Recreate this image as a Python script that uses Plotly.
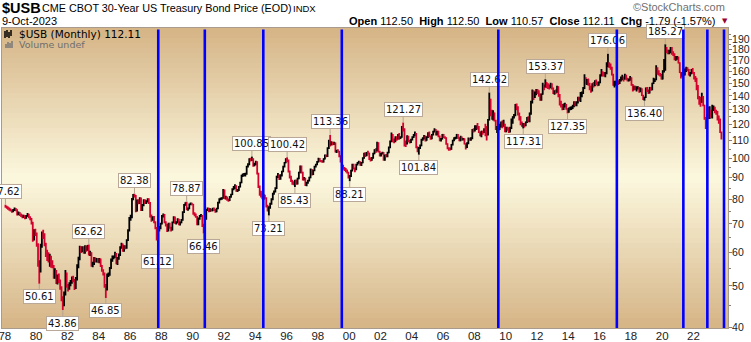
import math
import pandas as pd
import plotly.graph_objects as go

# ---------------- data (monthly bars, Jan 1978 .. Oct 2023) ----------------
first_open = 77.3
close = [
    76.9, 76.5, 76.2, 75.8, 75.3, 74.9, 75.4, 76.0, 75.5, 73.8, 74.2, 73.6,  # 1978
    73.2, 72.8, 73.1, 72.4, 73.0, 73.6, 72.6, 72.0, 70.5, 65.0, 67.2, 66.4,  # 1979
    62.5, 56.0, 54.5, 62.0, 66.5, 66.0, 62.5, 59.5, 59.0, 57.5, 57.8, 57.0,  # 1980
    55.5, 52.5, 54.0, 51.0, 52.5, 51.5, 49.5, 46.5, 45.5, 48.0, 53.5, 50.0,  # 1981
    49.5, 50.5, 51.0, 52.0, 51.5, 49.5, 52.0, 55.5, 58.0, 61.5, 60.5, 61.5,  # 1982
    60.0, 62.0, 60.8, 62.2, 59.5, 59.8, 56.0, 56.3, 58.0, 57.2, 57.8, 57.0,  # 1983
    57.8, 55.8, 54.3, 53.5, 50.0, 49.0, 53.0, 53.2, 55.0, 57.5, 58.2, 58.5,  # 1984
    59.5, 56.5, 58.0, 59.2, 61.5, 62.5, 60.5, 61.8, 61.5, 64.0, 67.5, 72.0,  # 1985
    72.5, 80.0, 82.0, 81.5, 75.0, 79.5, 78.5, 80.5, 75.5, 77.5, 79.5, 78.5,  # 1986
    79.0, 80.0, 78.5, 73.0, 71.5, 72.5, 70.5, 68.5, 64.5, 68.0, 68.5, 70.0,  # 1987
    73.0, 73.5, 70.5, 69.5, 67.5, 70.0, 68.5, 67.8, 70.5, 72.5, 70.2, 70.5,  # 1988
    71.8, 69.8, 70.5, 71.5, 74.5, 77.5, 78.5, 75.8, 76.0, 77.8, 78.2, 77.8,  # 1989
    74.0, 73.5, 72.8, 70.0, 72.0, 73.0, 73.2, 69.5, 68.5, 72.0, 75.5, 76.0,  # 1990
    75.0, 75.5, 75.2, 76.0, 75.5, 74.8, 76.0, 78.5, 80.0, 80.2, 80.5, 84.0,  # 1991
    80.5, 80.8, 79.8, 79.5, 81.0, 82.0, 84.5, 85.0, 86.0, 83.8, 84.0, 85.5,  # 1992
    87.5, 91.0, 91.2, 91.5, 91.8, 95.5, 96.5, 99.5, 99.0, 99.5, 96.0, 96.8,  # 1993
    98.0, 92.0, 85.5, 83.0, 82.0, 80.5, 81.5, 80.5, 77.0, 76.2, 76.5, 78.0,  # 1994
    80.0, 82.5, 83.5, 85.0, 90.5, 91.0, 89.5, 91.0, 93.0, 95.5, 97.5, 99.5,  # 1995
    98.5, 93.0, 90.5, 88.5, 87.5, 87.2, 88.5, 87.0, 89.5, 92.5, 95.5, 92.5,  # 1996
    89.0, 89.5, 86.5, 87.5, 88.5, 90.0, 94.0, 91.5, 93.5, 95.5, 96.5, 98.0,  # 1997
    99.5, 98.5, 98.2, 98.0, 99.5, 101.5, 101.0, 105.5, 109.5, 108.0, 108.5, 108.0,  # 1998
    108.5, 103.5, 104.0, 103.5, 101.0, 98.5, 96.0, 94.5, 94.0, 93.5, 92.5, 90.0,  # 1999
    90.5, 93.5, 96.5, 94.5, 94.0, 96.5, 97.5, 97.8, 96.5, 97.5, 100.0, 102.5,  # 2000
    101.5, 103.0, 102.5, 99.5, 99.0, 100.0, 102.5, 104.5, 104.0, 108.5, 103.5, 101.5,  # 2001
    102.5, 103.0, 99.0, 101.5, 101.0, 103.0, 106.0, 109.5, 113.5, 110.5, 109.5, 112.0,  # 2002
    111.0, 113.0, 111.5, 112.0, 118.5, 117.0, 108.5, 108.0, 112.5, 109.5, 109.0, 110.5,  # 2003
    112.0, 113.0, 114.0, 106.0, 104.5, 105.5, 107.0, 110.5, 111.0, 112.5, 110.0, 112.0,  # 2004
    114.5, 112.5, 111.0, 113.5, 115.5, 116.5, 113.5, 115.5, 112.5, 110.0, 111.0, 113.5,  # 2005
    112.0, 111.5, 108.0, 105.5, 105.0, 105.0, 107.5, 110.0, 111.5, 111.5, 113.5, 111.5,  # 2006
    110.0, 112.0, 110.5, 111.0, 108.0, 106.0, 108.5, 111.0, 110.5, 111.5, 116.5, 116.0,  # 2007
    118.0, 118.5, 118.0, 115.0, 113.0, 115.5, 115.0, 116.5, 116.0, 113.5, 123.0, 137.5,  # 2008
    127.0, 124.0, 127.5, 122.5, 117.5, 118.5, 118.5, 118.5, 121.0, 119.0, 120.0, 115.5,  # 2009
    117.5, 117.0, 115.5, 117.5, 122.0, 125.0, 126.0, 133.5, 131.5, 127.0, 125.0, 120.5,  # 2010
    119.5, 120.0, 119.5, 121.5, 124.5, 122.5, 127.5, 135.5, 143.5, 140.5, 142.5, 144.0,  # 2011
    143.5, 141.0, 137.5, 141.5, 148.0, 147.0, 150.5, 148.5, 148.0, 146.5, 149.5, 146.0,  # 2012
    142.5, 143.5, 143.0, 147.0, 140.0, 135.5, 133.0, 131.5, 133.0, 133.5, 130.5, 128.5,  # 2013
    130.5, 131.0, 131.5, 132.5, 135.0, 133.5, 135.0, 138.5, 137.0, 140.0, 142.5, 146.0,  # 2014
    154.5, 150.5, 152.5, 149.5, 147.0, 144.5, 149.5, 148.5, 151.0, 150.0, 149.0, 150.5,  # 2015
    156.5, 158.0, 157.5, 156.5, 158.5, 164.5, 166.0, 164.5, 163.5, 157.0, 148.5, 149.5,  # 2016
    150.0, 151.0, 150.5, 152.5, 154.0, 155.0, 153.5, 156.5, 153.5, 152.5, 153.0, 154.5,  # 2017
    148.5, 145.0, 147.5, 145.5, 146.0, 146.5, 143.5, 145.5, 140.5, 137.5, 139.0, 146.0,  # 2018
    143.5, 142.5, 146.5, 145.0, 150.0, 152.5, 153.0, 162.0, 158.5, 158.0, 157.0, 153.5,  # 2019
    160.5, 167.5, 179.5, 179.0, 177.5, 178.0, 181.5, 176.5, 175.5, 171.0, 172.0, 172.5,  # 2020
    167.5, 159.0, 156.0, 158.5, 157.5, 160.0, 162.5, 161.5, 157.0, 158.0, 160.5, 158.5,  # 2021
    154.0, 152.0, 148.0, 138.0, 137.0, 135.5, 139.0, 133.0, 124.0, 120.5, 125.5, 124.5,  # 2022
    129.5, 125.5, 131.0, 131.5, 128.5, 128.0, 125.5, 123.0, 115.0, 112.11,              # 2023
]
high = [
    77.62, 77.2, 76.9, 76.5, 76.1, 75.7, 75.9, 76.5, 76.3, 75.8, 74.8, 74.6,  # 1978
    74.0, 73.6, 73.5, 73.3, 73.4, 74.2, 73.9, 72.9, 72.3, 70.8, 68.0, 68.2,  # 1979
    66.8, 63.0, 57.5, 62.8, 67.2, 67.8, 66.5, 63.2, 60.8, 60.0, 59.5, 58.9,  # 1980
    57.5, 56.0, 55.0, 54.5, 53.2, 53.5, 51.8, 49.9, 47.3, 48.5, 54.5, 53.8,  # 1981
    50.5, 51.0, 51.6, 52.6, 52.8, 51.9, 52.5, 56.2, 58.6, 62.2, 62.0, 62.0,  # 1982
    62.0, 62.3, 62.2, 62.4, 62.62, 60.5, 60.0, 57.0, 58.5, 58.4, 58.2, 58.2,  # 1983
    58.2, 58.0, 56.0, 54.7, 53.8, 50.5, 53.5, 53.8, 55.4, 58.0, 59.0, 59.0,  # 1984
    60.2, 59.8, 58.5, 59.6, 62.0, 63.2, 62.9, 62.3, 62.3, 64.4, 68.0, 72.6,  # 1985
    73.5, 80.5, 82.3, 82.38, 81.8, 79.9, 80.0, 80.9, 80.8, 78.0, 80.0, 80.0,  # 1986
    79.6, 80.4, 80.4, 78.8, 73.6, 72.9, 73.0, 71.0, 68.8, 68.8, 69.2, 70.4,  # 1987
    73.4, 74.0, 73.8, 71.0, 69.9, 70.4, 70.4, 68.9, 70.9, 72.9, 72.8, 71.0,  # 1988
    72.2, 72.0, 70.9, 71.9, 74.9, 77.9, 78.7, 78.87, 76.5, 78.2, 78.6, 78.5,  # 1989
    78.0, 74.5, 74.0, 73.0, 72.5, 73.4, 73.8, 73.4, 70.0, 72.4, 75.9, 76.5,  # 1990
    76.4, 76.2, 76.0, 76.4, 76.5, 75.9, 76.4, 78.9, 80.4, 80.8, 80.9, 84.5,  # 1991
    84.3, 81.5, 81.2, 80.3, 81.4, 82.4, 84.9, 86.0, 86.8, 86.3, 84.6, 85.9,  # 1992
    87.9, 91.4, 92.0, 92.2, 92.4, 95.9, 97.2, 99.9, 100.2, 100.85, 99.9, 97.5,  # 1993
    98.6, 98.3, 92.3, 86.2, 83.8, 82.6, 82.3, 82.0, 80.9, 77.6, 77.0, 78.5,  # 1994
    80.4, 82.9, 83.9, 85.4, 90.9, 92.2, 91.5, 91.6, 93.4, 95.9, 97.9, 99.9,  # 1995
    100.42, 99.2, 93.5, 90.9, 88.9, 88.2, 88.9, 89.0, 89.9, 92.9, 96.0, 96.0,  # 1996
    92.9, 90.2, 89.9, 87.9, 88.9, 90.4, 94.5, 94.3, 93.9, 95.9, 96.9, 98.4,  # 1997
    100.2, 100.0, 99.0, 98.8, 99.9, 101.9, 102.0, 106.0, 110.5, 113.36, 109.5, 109.2,  # 1998
    109.2, 108.8, 104.6, 104.9, 104.0, 101.5, 99.0, 96.5, 95.3, 94.8, 94.0, 92.9,  # 1999
    91.2, 93.9, 96.9, 97.0, 95.0, 96.9, 97.9, 98.6, 98.3, 97.9, 100.4, 102.9,  # 2000
    103.2, 103.4, 104.0, 103.0, 100.5, 100.6, 102.9, 104.9, 105.5, 109.2, 109.0, 104.0,  # 2001
    102.9, 103.5, 103.4, 101.9, 102.2, 103.5, 106.5, 110.0, 114.8, 114.0, 111.2, 112.5,  # 2002
    112.6, 114.0, 114.5, 112.6, 119.0, 121.27, 117.5, 110.0, 113.2, 112.9, 110.5, 111.0,  # 2003
    112.5, 113.9, 115.5, 114.5, 106.6, 106.2, 107.6, 111.0, 111.9, 113.3, 113.0, 112.6,  # 2004
    115.0, 115.5, 113.0, 114.0, 116.0, 117.5, 117.0, 116.0, 116.0, 113.0, 111.5, 114.0,  # 2005
    114.0, 112.6, 112.0, 108.4, 106.0, 105.9, 107.9, 110.5, 112.0, 112.2, 114.0, 114.0,  # 2006
    112.0, 112.8, 112.4, 111.5, 111.3, 108.4, 108.9, 111.8, 111.6, 112.0, 117.0, 117.5,  # 2007
    119.5, 119.5, 121.0, 119.0, 115.5, 116.0, 116.0, 117.5, 120.5, 119.0, 123.6, 142.62,  # 2008
    138.0, 130.0, 129.5, 128.0, 123.0, 119.0, 120.0, 120.5, 122.0, 122.5, 123.0, 120.5,  # 2009
    118.5, 118.5, 118.0, 118.5, 124.0, 125.5, 127.0, 134.0, 134.5, 132.5, 128.0, 125.5,  # 2010
    122.0, 121.0, 121.0, 122.0, 125.0, 125.5, 128.0, 136.5, 145.0, 144.5, 143.5, 145.5,  # 2011
    145.5, 144.5, 142.0, 142.0, 150.5, 149.0, 153.37, 151.0, 150.0, 149.0, 150.5, 150.0,  # 2012
    146.5, 144.5, 145.0, 148.0, 147.5, 141.5, 136.5, 134.0, 134.5, 135.0, 134.0, 131.0,  # 2013
    131.5, 132.0, 132.5, 133.5, 136.0, 136.0, 136.0, 139.5, 139.5, 143.0, 143.5, 147.0,  # 2014
    157.5, 155.0, 153.5, 154.0, 150.5, 148.0, 150.0, 151.0, 152.5, 153.0, 151.5, 151.5,  # 2015
    157.5, 162.0, 160.0, 159.5, 159.5, 168.0, 176.06, 168.0, 167.0, 164.0, 158.0, 152.0,  # 2016
    152.0, 152.0, 152.5, 153.5, 155.5, 157.0, 155.5, 158.0, 157.0, 154.5, 154.0, 156.0,  # 2017
    155.0, 149.5, 148.0, 148.0, 147.5, 147.5, 147.0, 146.5, 146.0, 141.0, 139.5, 146.5,  # 2018
    147.0, 145.0, 147.0, 147.0, 150.5, 154.5, 154.0, 165.5, 163.5, 161.0, 158.5, 158.0,  # 2019
    161.0, 171.0, 185.27, 182.5, 180.0, 180.0, 182.5, 182.5, 178.5, 176.5, 174.0, 174.0,  # 2020
    173.5, 168.0, 159.5, 159.5, 159.5, 162.5, 164.0, 163.5, 162.0, 159.5, 162.0, 163.0,  # 2021
    159.5, 156.0, 154.5, 148.5, 140.0, 139.5, 142.5, 140.0, 133.5, 125.0, 127.0, 132.0,  # 2022
    132.5, 130.0, 133.5, 133.0, 132.0, 130.0, 129.0, 126.0, 124.0, 115.5,              # 2023
]
low = [
    76.4, 76.0, 75.6, 75.2, 74.8, 74.3, 74.5, 75.0, 74.9, 73.2, 73.3, 73.0,  # 1978
    72.6, 72.2, 72.3, 71.8, 72.0, 72.7, 72.2, 71.4, 69.8, 63.5, 64.0, 65.5,  # 1979
    61.8, 55.5, 50.61, 53.8, 61.5, 64.5, 62.0, 58.5, 57.2, 56.8, 55.5, 55.2,  # 1980
    55.0, 52.0, 52.0, 50.5, 50.4, 50.8, 49.0, 46.0, 43.86, 44.8, 47.5, 49.5,  # 1981
    48.5, 49.0, 49.9, 50.6, 51.0, 48.9, 49.2, 51.5, 55.0, 57.5, 59.8, 60.0,  # 1982
    59.5, 59.5, 60.2, 60.5, 59.0, 58.8, 55.5, 55.3, 56.0, 56.8, 56.8, 56.7,  # 1983
    56.5, 55.4, 54.0, 52.9, 49.5, 46.85, 48.8, 52.5, 52.8, 54.8, 57.0, 57.8,  # 1984
    58.2, 56.2, 56.0, 57.6, 58.8, 61.2, 60.2, 60.2, 61.0, 61.2, 63.8, 67.2,  # 1985
    71.2, 72.2, 79.5, 80.8, 74.5, 74.8, 77.8, 78.0, 75.0, 75.0, 77.0, 78.0,  # 1986
    78.0, 78.6, 78.0, 72.5, 70.8, 71.2, 70.2, 68.0, 64.0, 61.12, 67.2, 68.0,  # 1987
    69.8, 72.5, 70.2, 69.0, 67.0, 67.2, 68.2, 67.2, 67.5, 70.2, 70.0, 69.8,  # 1988
    70.2, 69.5, 69.4, 70.2, 71.2, 74.2, 77.2, 75.4, 75.2, 75.8, 77.4, 77.4,  # 1989
    73.5, 72.9, 72.4, 69.5, 69.5, 71.6, 72.6, 68.8, 66.46, 68.0, 71.6, 75.0,  # 1990
    74.5, 74.7, 74.8, 74.9, 75.0, 74.3, 74.5, 75.8, 78.2, 79.5, 79.8, 80.2,  # 1991
    80.0, 79.9, 79.3, 78.9, 79.2, 80.6, 81.8, 84.0, 84.6, 83.3, 83.2, 83.6,  # 1992
    85.2, 87.2, 90.2, 90.6, 90.5, 91.4, 95.0, 96.2, 98.2, 98.4, 95.4, 95.6,  # 1993
    96.2, 91.5, 85.0, 81.5, 80.8, 80.0, 79.8, 80.0, 76.5, 74.8, 73.21, 76.0,  # 1994
    77.6, 79.6, 82.0, 83.0, 84.6, 89.8, 88.8, 88.9, 90.5, 92.6, 95.0, 97.2,  # 1995
    97.8, 92.5, 89.5, 87.8, 86.5, 86.3, 85.43, 86.5, 86.6, 89.1, 92.1, 92.0,  # 1996
    88.5, 88.6, 86.0, 85.8, 87.0, 88.1, 89.6, 91.0, 91.2, 93.1, 95.0, 96.2,  # 1997
    97.6, 98.0, 97.8, 97.5, 97.6, 99.2, 100.5, 100.6, 105.0, 106.5, 107.0, 107.2,  # 1998
    107.4, 103.0, 102.8, 103.0, 100.5, 97.6, 95.5, 93.8, 93.2, 92.6, 92.0, 89.5,  # 1999
    88.21, 90.2, 93.0, 94.0, 92.6, 93.6, 96.0, 97.0, 95.9, 95.8, 97.2, 99.6,  # 2000
    100.6, 101.0, 101.9, 99.0, 98.2, 98.6, 99.6, 102.1, 102.8, 103.6, 103.0, 100.8,  # 2001
    100.8, 101.9, 98.5, 98.6, 100.4, 100.5, 102.6, 105.5, 109.0, 108.9, 108.4, 109.0,  # 2002
    109.8, 110.6, 110.5, 110.9, 111.6, 115.5, 106.5, 106.2, 107.6, 108.9, 108.2, 108.5,  # 2003
    110.0, 111.5, 112.5, 105.5, 103.2, 101.84, 105.0, 106.6, 109.8, 110.6, 109.4, 109.8,  # 2004
    111.5, 112.0, 110.5, 110.8, 113.0, 114.8, 113.0, 113.0, 112.0, 109.5, 109.4, 110.6,  # 2005
    111.5, 111.0, 107.5, 104.9, 104.0, 104.2, 104.6, 107.0, 109.6, 110.6, 111.0, 111.0,  # 2006
    109.5, 109.6, 110.0, 110.0, 107.6, 104.8, 105.6, 107.8, 109.8, 109.8, 110.8, 114.8,  # 2007
    115.5, 116.5, 116.8, 114.5, 112.5, 112.0, 113.5, 114.5, 112.5, 110.0, 113.0, 122.5,  # 2008
    125.5, 123.0, 122.5, 122.0, 116.5, 114.5, 116.0, 116.5, 118.0, 117.5, 118.5, 115.0,  # 2009
    115.0, 116.0, 114.5, 114.8, 117.0, 120.5, 124.0, 125.5, 129.5, 126.0, 122.5, 119.5,  # 2010
    118.5, 117.31, 118.0, 118.8, 121.0, 121.5, 121.5, 126.5, 134.5, 137.0, 138.5, 140.5,  # 2011
    141.5, 139.5, 136.5, 136.5, 141.0, 144.5, 146.5, 146.0, 145.5, 145.0, 146.0, 145.0,  # 2012
    141.5, 141.0, 141.5, 142.5, 139.0, 133.0, 131.5, 129.5, 129.8, 131.5, 130.0, 127.35,  # 2013
    127.8, 129.5, 129.8, 130.5, 131.8, 132.5, 132.5, 134.5, 136.0, 135.5, 139.0, 141.5,  # 2014
    145.5, 149.0, 148.5, 148.0, 144.5, 142.5, 143.5, 146.5, 147.5, 148.5, 147.5, 148.0,  # 2015
    150.0, 155.5, 155.5, 155.5, 155.0, 157.5, 163.5, 163.0, 161.5, 156.5, 148.0, 146.5,  # 2016
    148.0, 148.5, 148.5, 149.5, 151.5, 152.5, 151.5, 153.0, 152.5, 151.5, 151.5, 152.0,  # 2017
    148.0, 143.5, 144.5, 144.5, 143.5, 145.0, 142.5, 142.8, 140.0, 137.0, 136.40, 138.5,  # 2018
    143.0, 141.5, 142.0, 144.0, 144.5, 149.5, 151.0, 152.5, 157.0, 156.5, 155.5, 153.0,  # 2019
    153.0, 159.0, 160.5, 176.5, 175.5, 175.5, 176.5, 175.0, 174.0, 170.0, 169.5, 170.5,  # 2020
    167.0, 158.5, 154.0, 155.5, 156.0, 156.5, 159.5, 160.0, 156.5, 155.5, 157.5, 158.0,  # 2021
    153.0, 151.0, 144.5, 137.5, 133.5, 132.0, 135.0, 132.5, 123.0, 117.0, 119.5, 123.5,  # 2022
    123.5, 124.5, 124.0, 129.0, 127.5, 126.5, 122.5, 120.5, 114.5, 110.57,              # 2023
]
assert len(close) == len(high) == len(low)
open_ = [first_open] + close[:-1]
bar_dates = pd.date_range("1978-01-01", periods=len(close), freq="MS") + pd.Timedelta(days=14)

# labelled swing highs / lows
label_months = ["1978-01", "1980-03", "1981-09", "1983-05", "1984-06", "1986-04",
                "1987-10", "1989-08", "1990-09", "1993-10", "1994-11", "1996-01",
                "1996-07", "1998-10", "2000-01", "2003-06", "2004-06", "2008-12",
                "2011-02", "2012-07", "2013-12", "2016-07", "2018-11", "2020-03"]
label_values = [77.62, 50.61, 43.86, 62.62, 46.85, 82.38, 61.12, 78.87, 66.46, 100.85,
                73.21, 100.42, 85.43, 113.36, 88.21, 121.27, 101.84, 142.62, 117.31,
                153.37, 127.35, 176.06, 136.40, 185.27]
label_kind = ["H", "L", "L", "H", "L", "H", "L", "H", "L", "H", "L", "H", "L", "H",
              "L", "H", "L", "H", "L", "H", "L", "H", "L", "H"]

# blue vertical marker lines
marker_dates = ["1987-10-22", "1990-10-12", "1994-07-08", "1999-07-14", "2009-07-14",
                "2017-02-08", "2021-05-10", "2022-11-21", "2023-12-15"]

x_tick_years = list(range(1978, 2023, 2))
y_ticks = [40, 50, 60, 70, 80, 90, 100, 110, 120, 130, 140, 150, 160, 170, 180, 190]
y_minor = [45, 55, 65, 75, 85, 95, 105, 115, 125, 135, 145, 155, 165, 175, 185, 195]

symbol = "$USB"
title_text = "CME CBOT 30-Year US Treasury Bond Price (EOD)"
exchange = "INDX"
date_text = "9-Oct-2023"
quote = {"Open": "112.50", "High": "112.50", "Low": "110.57", "Close": "112.11",
         "Chg": "-1.79 (-1.57%)"}
legend_text = "$USB (Monthly) 112.11"

# ---------------- layout geometry ----------------
W, H = 751, 342
L, R, T, B = 2, 23, 28, 14
PW, PH = W - L - R, H - T - B


def px(x):
    return (x - L) / PW


def py(y):
    return (H - B - y) / PH


y_lo, y_hi = 39.8, 202.4
x_lo, x_hi = "1977-10-27", "2024-03-17"

fig = go.Figure()
fig.add_trace(go.Ohlc(
    x=bar_dates, open=open_, high=high, low=low, close=close,
    increasing=dict(line=dict(color="#000000", width=1.8)),
    decreasing=dict(line=dict(color="#D6002F", width=1.8)),
    tickwidth=0.3, showlegend=False, hoverinfo="skip",
))

# background gradient (tan at edges, cream in the middle)
edge = (213, 180, 134)
mid = (252, 248, 222)
N = 60
shapes = []
for i in range(N):
    t0, t1 = i / N, (i + 1) / N
    tc = abs((t0 + t1) / 2 - 0.5) / 0.5
    c = tuple(round(m + (e - m) * tc) for m, e in zip(mid, edge))
    shapes.append(dict(type="rect", xref="paper", yref="paper", x0=0, x1=1, y0=t0, y1=t1 + 0.002,
                       fillcolor="rgb(%d,%d,%d)" % c, line=dict(width=0), layer="below"))

annotations = []
# swing labels
bar_by_month = {d.strftime("%Y-%m"): d for d in bar_dates}
for m, v, k in zip(label_months, label_values, label_kind):
    annotations.append(dict(
        x=bar_by_month[m], y=math.log10(v), xref="x", yref="y",
        text="%.2f" % v, showarrow=True, arrowhead=0, arrowwidth=1, arrowcolor="#B5A493",
        ax=0, ay=(-13 if k == "H" else 13), standoff=0,
        font=dict(family="DejaVu Sans", size=10, color="#111111"),
        bgcolor="#FFFFFF", bordercolor="#B9A898", borderwidth=1, borderpad=1,
    ))
# blue vertical lines (drawn as annotation arrows so they sit above the label boxes)
for d in marker_dates:
    annotations.append(dict(
        x=d, y=math.log10(y_lo), xref="x", yref="y", ax=d, ay=math.log10(y_hi),
        axref="x", ayref="y", text="", showarrow=True, arrowhead=0, arrowwidth=2.6,
        arrowcolor="#0000FF", standoff=0, startstandoff=0,
    ))

# header
annotations += [
    dict(x=px(0), y=py(8), xref="paper", yref="paper", xanchor="left", yanchor="middle",
         text="<b>%s</b>" % symbol, showarrow=False,
         font=dict(family="Liberation Sans", size=14.5, color="#000000")),
    dict(x=px(40), y=py(8), xref="paper", yref="paper", xanchor="left", yanchor="middle",
         text=title_text, showarrow=False,
         font=dict(family="Liberation Sans", size=10.8, color="#000000")),
    dict(x=px(291), y=py(8), xref="paper", yref="paper", xanchor="left", yanchor="middle",
         text=exchange, showarrow=False,
         font=dict(family="Liberation Sans", size=9.5, color="#000000")),
    dict(x=px(727), y=py(7), xref="paper", yref="paper", xanchor="right", yanchor="middle",
         text="\u00a9StockCharts.com", showarrow=False,
         font=dict(family="Liberation Sans", size=11, color="#707070")),
    dict(x=px(0), y=py(21), xref="paper", yref="paper", xanchor="left", yanchor="middle",
         text=date_text, showarrow=False,
         font=dict(family="Liberation Sans", size=11, color="#000000")),
    dict(x=px(718), y=py(21), xref="paper", yref="paper", xanchor="right", yanchor="middle",
         text="  ".join("<b>%s</b> %s" % (k, v) for k, v in quote.items()), showarrow=False,
         font=dict(family="Liberation Sans", size=11, color="#000000")),
    dict(x=px(725), y=py(21), xref="paper", yref="paper", xanchor="center", yanchor="middle",
         text="\u25bc", showarrow=False,
         font=dict(family="DejaVu Sans", size=7, color="#990033")),
    dict(x=px(17), y=py(34), xref="paper", yref="paper", xanchor="left", yanchor="middle",
         text=legend_text, showarrow=False,
         font=dict(family="DejaVu Sans", size=10.5, color="#000000")),
    dict(x=px(17), y=py(45), xref="paper", yref="paper", xanchor="left", yanchor="middle",
         text="Volume undef", showarrow=False,
         font=dict(family="DejaVu Sans", size=9.5, color="#6E6E6E")),
]

# small legend icons
icon = []
for xx, y0, y1, col in [(5, 31, 38, "#000"), (7, 30, 37, "#000"), (9, 32, 38, "#000"), (11, 30, 36, "#000"),
                        (6, 44, 48, "#777"), (8, 42, 48, "#777"), (10, 43, 48, "#777"), (12, 41, 48, "#777")]:
    icon.append(dict(type="line", xref="paper", yref="paper", x0=px(xx), x1=px(xx), y0=py(y0), y1=py(y1),
                     line=dict(color=col, width=1.5)))

fig.update_layout(
    width=W, height=H, autosize=False,
    margin=dict(l=L, r=R, t=T, b=B, pad=0, autoexpand=False),
    paper_bgcolor="#FFFFFF", plot_bgcolor="#F5EBCB",
    shapes=shapes + icon, annotations=annotations,
    showlegend=False,
    xaxis=dict(
        type="date", range=[x_lo, x_hi], rangeslider=dict(visible=False), automargin=False,
        tickmode="array", tickvals=["%d-01-01" % y for y in x_tick_years],
        ticktext=["%02d" % (y % 100) for y in x_tick_years],
        ticks="", ticklen=0, ticklabeloverflow="allow", ticklabelstandoff=-3,
        showgrid=False, zeroline=False, showline=True, mirror=True,
        linecolor="#A89A8C", linewidth=1,
        tickfont=dict(family="Liberation Sans", size=11.5, color="#222222"),
    ),
    yaxis=dict(
        type="log", side="right", range=[math.log10(y_lo), math.log10(y_hi)], automargin=False,
        tickmode="array", tickvals=y_ticks, ticktext=[str(v) for v in y_ticks],
        ticks="outside", ticklen=3, tickcolor="#8A7E74", ticklabeloverflow="allow",
        ticklabelstandoff=-2,
        minor=dict(tickmode="array", tickvals=y_minor, ticks="outside", ticklen=2, tickcolor="#8A7E74"),
        showgrid=False, zeroline=False, showline=True, mirror=True,
        linecolor="#A89A8C", linewidth=1,
        tickfont=dict(family="Liberation Sans", size=10.5, color="#222222"),
    ),
)

fig.write_html("out.html")
